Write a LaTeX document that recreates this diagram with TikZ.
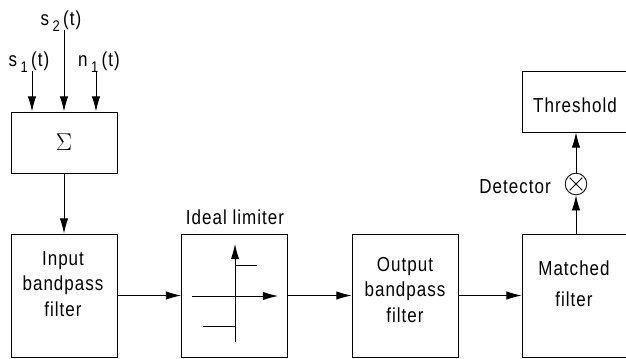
\documentclass[tikz,border=0pt]{standalone}
\usepackage{fontspec}
\setmainfont{Liberation Sans}[LetterSpace=5,FakeStretch=0.84]
\usepackage{tikz}
\usetikzlibrary{arrows.meta,shapes.misc}

\newcommand{\lowdigit}[1]{\,\raisebox{-4pt}{\fontsize{11}{12}\selectfont #1}\,}

\tikzset{
  blockbox/.style={draw, minimum width=2.65cm, inner sep=0pt},
  tallbox/.style={blockbox, minimum height=3.075cm},
  shortbox/.style={blockbox, minimum height=1.525cm},
  boxtext/.style={inner sep=0pt, align=center},
  flow/.style={-{Latex[length=0.38cm,width=0.21cm]}}
}

\begin{document}
\begin{tikzpicture}[x=0.025cm, y=-0.025cm, font=\fontsize{14.4}{18}\selectfont, line width=0.6pt]
  \useasboundingbox (0,0) rectangle (626,358);

  % Blocks
  \node[shortbox, font=\fontsize{17}{18}\selectfont] (sum) at (64,142.5) {$\Sigma$};
  \node[tallbox] (input) at (64,295.5) {};
  \node[tallbox] (limiter) at (234.5,295.5) {};
  \node[tallbox] (output) at (405,295.5) {};
  \node[tallbox] (matched) at (575,295.5) {};
  \node[shortbox] (threshold) at (575,101.5) {};
  \node[draw, circle, cross out, minimum size=0.3cm, inner sep=0pt] (cross) at (576,184) {};
  \node[draw, circle, minimum size=0.54cm, inner sep=0pt] (detector) at (576,184) {};

  % Box text
  \node[boxtext] (inputtext) at (63,284) {Input\\bandpass\\filter};
  \node[boxtext] (outputtext) at (405,290) {Output\\bandpass\\filter};
  \node[boxtext] (matchedtext) at (574,284) {Matched\\[4pt]filter};
  \node[boxtext] (thresholdtext) at (575,105) {Threshold};

  % Labels
  \node[boxtext] (s1) at (29,62) {s\lowdigit{1}(t)};
  \node[boxtext] (s2) at (61,21) {s\lowdigit{2}(t)};
  \node[boxtext] (n1) at (99,62) {n\lowdigit{1}(t)};
  \node[boxtext] (limlabel) at (235,217) {Ideal limiter};
  \node[boxtext] (detlabel) at (515,187) {Detector};

  % Inputs
  \coordinate (s1top) at (32,71);
  \coordinate (s2top) at (64,30);
  \coordinate (n1top) at (96,71);
  \draw[flow] (s1top) -- (s1top |- sum.north);
  \draw[flow] (s2top) -- (s2top |- sum.north);
  \draw[flow] (n1top) -- (n1top |- sum.north);

  % Chain
  \draw[flow] (sum) -- (input);
  \draw[flow] (input) -- (limiter);
  \draw[flow] (limiter) -- (output);
  \draw[flow] (output) -- (matched);
  \draw[flow] (matched.north -| detector) -- (detector);
  \draw[flow] (detector) -- (threshold.south -| detector);

  % Limiter curve
  \coordinate (xleft) at (192,296);
  \coordinate (xright) at (278,296);
  \coordinate (ybot) at (235,342);
  \coordinate (ytop) at (235,244);
  \draw[flow] (xleft) -- (xright);
  \draw[flow] (ybot) -- (ytop);
  \draw (203,326) -- (235,326) -- (235,265) -- (257,265);
\end{tikzpicture}
\end{document}
